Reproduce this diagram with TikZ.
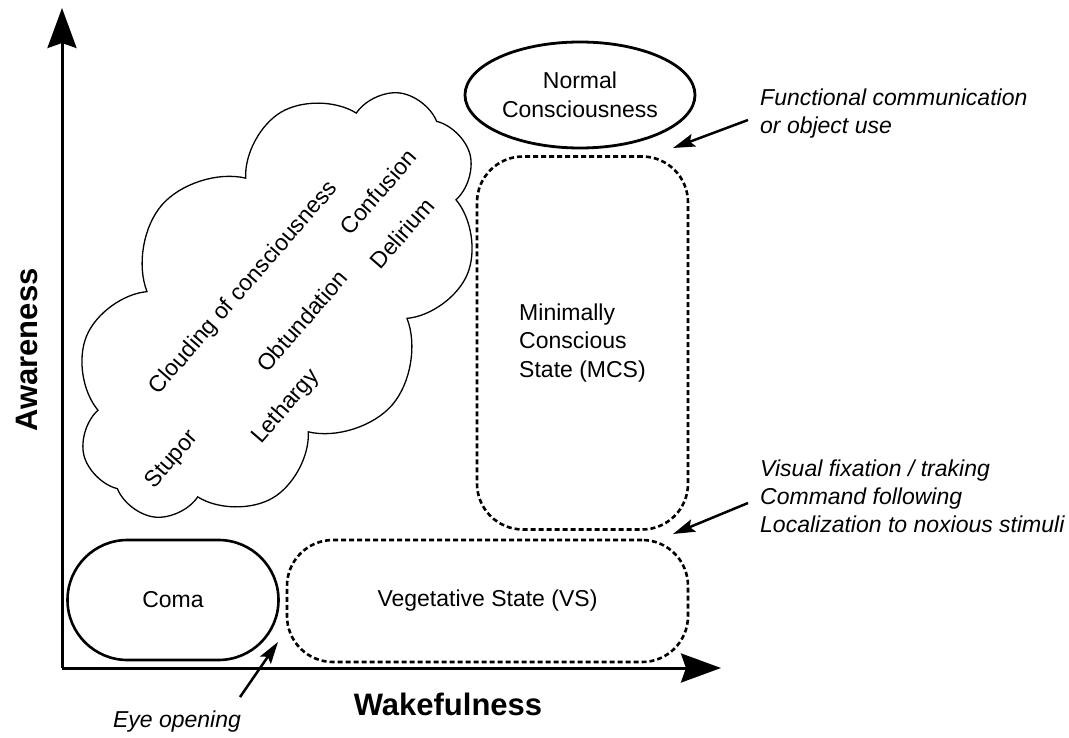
\documentclass[tikz,border=0pt]{standalone}
\usepackage{fontspec}
\setmainfont{Liberation Sans}
\usetikzlibrary{arrows.meta,shapes.geometric,shapes.symbols,positioning,calc}

\begin{document}
\begin{tikzpicture}[
    x=1pt, y=-1pt,
    font=\fontsize{23}{28.5}\selectfont,
    axis/.style={line width=3pt, -{Stealth[length=40pt, width=29pt, inset=5pt]}},
    axislabel/.style={font=\fontsize{31}{37}\selectfont\bfseries},
    solidstate/.style={draw, line width=2.6pt, rectangle, rounded corners=60pt},
    dashstate/.style={draw, line width=2.6pt, rectangle, rounded corners=46pt, dash pattern=on 5pt off 3pt},
    cloudword/.style={rotate=49, inner sep=0pt},
    note/.style={font=\fontsize{23}{28}\selectfont\itshape, align=left, anchor=west, inner sep=0pt},
    notearrow/.style={line width=2.5pt, -{Stealth[length=22pt, width=13pt, inset=4pt]}}
]
    \useasboundingbox (0,0) rectangle (1069,738);

    % Axes
    \coordinate (origin) at (62,668);
    \coordinate (ytip) at (62,8);
    \coordinate (xtip) at (721,668);
    \draw [axis] (origin) -- (ytip);
    \draw [axis] (origin) -- (xtip);
    \node [axislabel, rotate=90] (awareness) at (27,350) {Awareness};
    \node [axislabel] (wakefulness) at (448,704) {Wakefulness};

    % States
    \node [solidstate, minimum width=211pt, minimum height=120pt] (coma) at (173,600) {Coma};
    \node [dashstate, minimum width=401pt, minimum height=122pt] (vs) at (487.5,601) {Vegetative State (VS)};
    \node [dashstate, minimum width=211pt, minimum height=373pt, align=left] (mcs) at (582.5,343) {Minimally\\Conscious\\State (MCS)};
    \node [draw, ellipse, line width=2.8pt, minimum width=215pt, minimum height=106pt, align=center] (normal) at (580,95) {Normal\\Consciousness};

    % Cloud
    \node [cloud, draw, line width=1.3pt, cloud puffs=10, cloud puff arc=125, cloud ignores aspect,
           minimum width=505pt, minimum height=305pt, rotate=49] (clouding) at (277,305) {};
    \node [cloudword] (cloudtext) at (244,288) {Clouding of consciousness};
    \node [cloudword] (confusion) at (378,192) {Confusion};
    \node [cloudword] (delirium) at (402,233) {Delirium};
    \node [cloudword] (obtundation) at (302,321) {Obtundation};
    \node [cloudword] (lethargy) at (286,407) {Lethargy};
    \node [cloudword] (stupor) at (172,460) {Stupor};

    % Transitions
    \node [note] (funcnote) at (760,114) {Functional communication\\or object use};
    \node [note] (mcsnote) at (760,496) {Visual fixation / traking\\Command following\\Localization to noxious stimuli};
    \node [font=\fontsize{23}{28}\selectfont\itshape, inner sep=0pt] (eyenote) at (177,722) {Eye opening};
    \coordinate (gaptop) at (673,148);
    \coordinate (gapmid) at (673,534);
    \coordinate (gapcoma) at (278,642);
    \draw [notearrow] ($(funcnote.west)+(-12,6)$) -- (gaptop);
    \draw [notearrow] ($(mcsnote.west)+(-12,7)$) -- (gapmid);
    \draw [notearrow] ($(eyenote.north)+(63,-14)$) -- (gapcoma);

\end{tikzpicture}
\end{document}
